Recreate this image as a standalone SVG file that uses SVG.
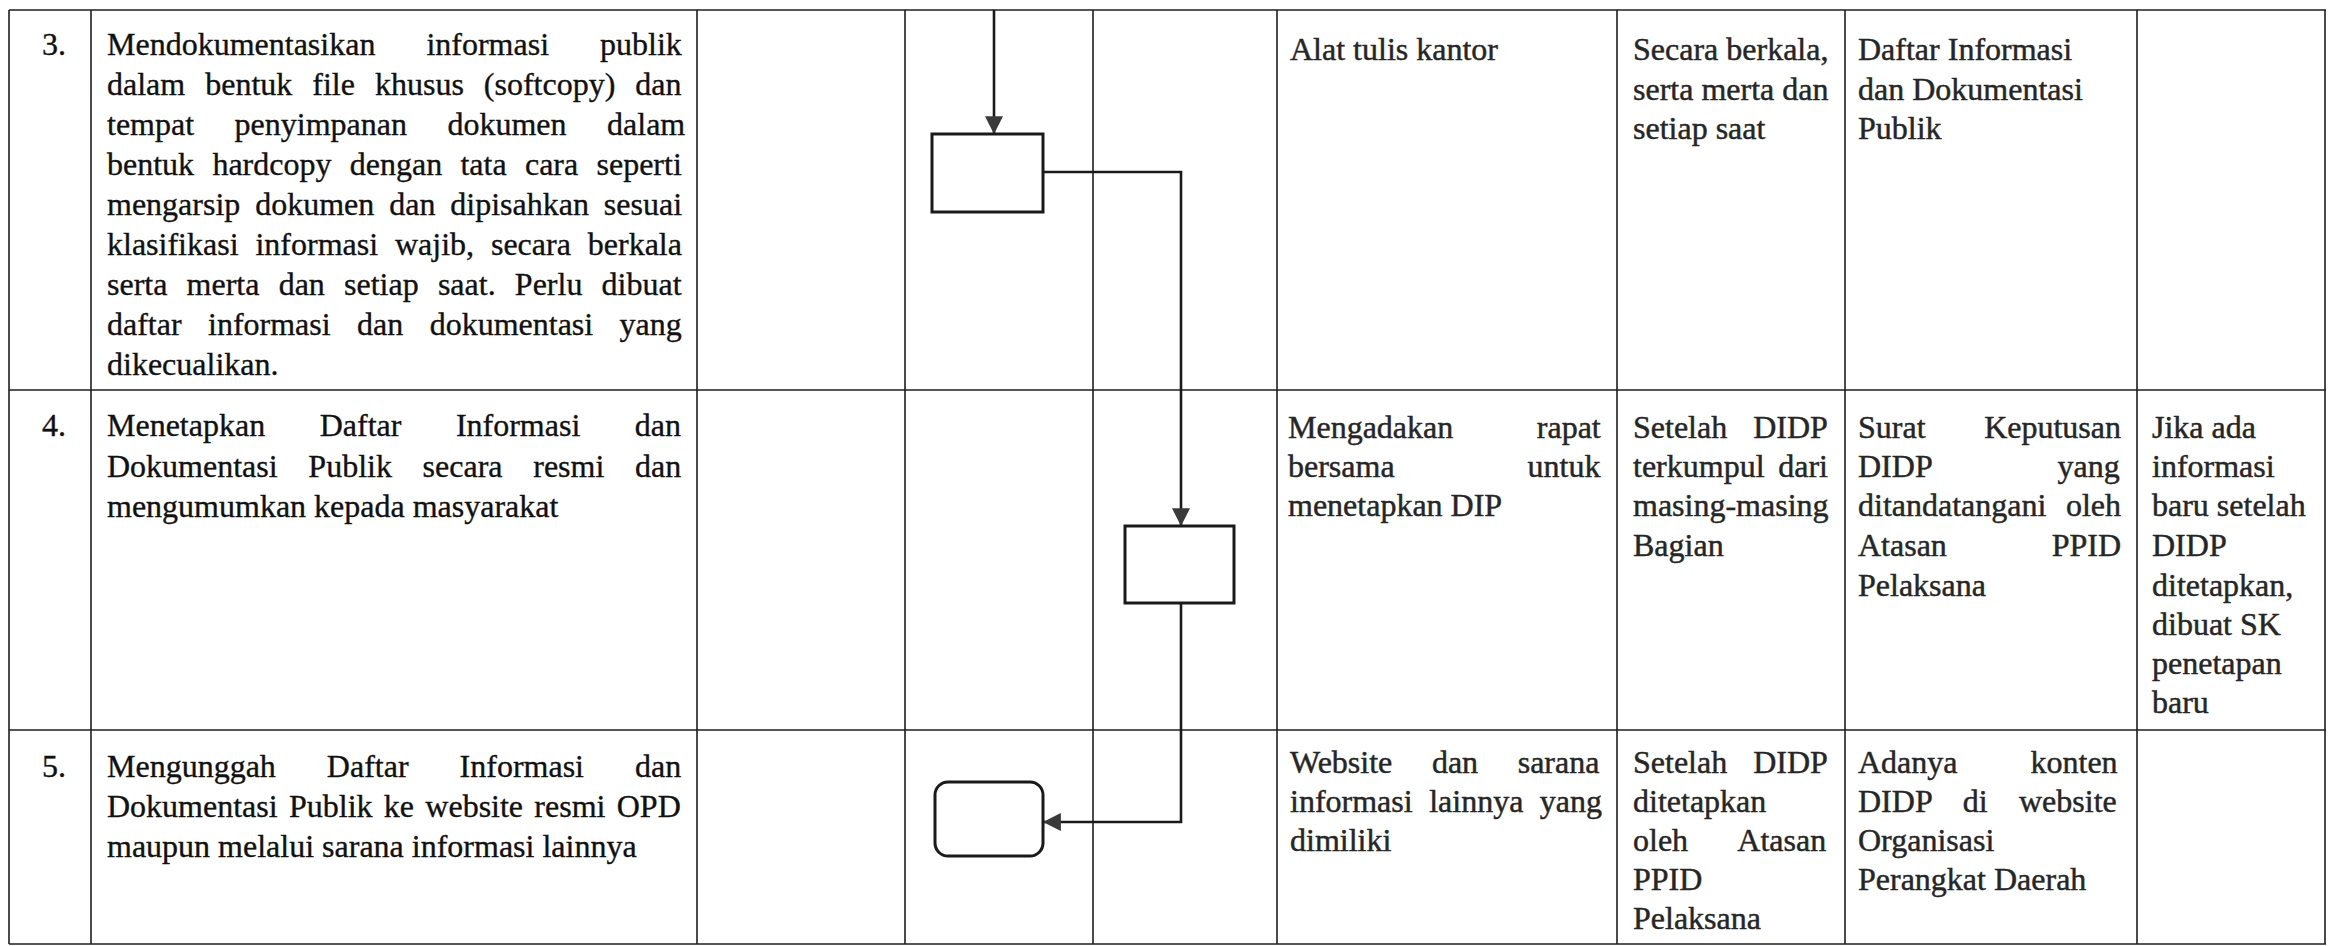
<svg xmlns="http://www.w3.org/2000/svg" width="2335" height="946" viewBox="0 0 2335 946">
<style>
  .grid line { stroke:#1e1e1e; stroke-width:1.6; }
  .t { font-family:"Liberation Serif","Times New Roman",serif; font-size:32px; fill:#111111; stroke:#111111; stroke-width:0.35; }
  .r { font-family:"Liberation Serif","Times New Roman",serif; font-size:32px; fill:#262626; stroke:#262626; stroke-width:0.45; }
  .box { fill:#ffffff; stroke:#1a1a1a; stroke-width:3; }
  .conn { fill:none; stroke:#1a1a1a; stroke-width:2.6; }
</style>
<defs>
  <marker id="arr" markerUnits="userSpaceOnUse" markerWidth="18" markerHeight="18" viewBox="0 0 16 16" refX="15" refY="8" orient="auto">
    <path d="M0,0 L16,8 L0,16 Z" fill="#3a3a3a"/>
  </marker>
</defs>
<rect x="0" y="0" width="2335" height="946" fill="#ffffff"/>

<g id="table" class="grid">
  <line x1="9" y1="10" x2="2326" y2="10"/>
  <line x1="9" y1="390" x2="2326" y2="390"/>
  <line x1="9" y1="730" x2="2326" y2="730"/>
  <line x1="9" y1="944" x2="2326" y2="944"/>
  <line x1="9" y1="10" x2="9" y2="944"/>
  <line x1="91" y1="10" x2="91" y2="944"/>
  <line x1="697" y1="10" x2="697" y2="944"/>
  <line x1="905" y1="10" x2="905" y2="944"/>
  <line x1="1093" y1="10" x2="1093" y2="944"/>
  <line x1="1277" y1="10" x2="1277" y2="944"/>
  <line x1="1617" y1="10" x2="1617" y2="944"/>
  <line x1="1845" y1="10" x2="1845" y2="944"/>
  <line x1="2137" y1="10" x2="2137" y2="944"/>
  <line x1="2325" y1="10" x2="2325" y2="944"/>
</g>

<g id="row3-text">
  <text class="t" x="42" y="55">3.</text>
  <text class="t" x="107" y="55" word-spacing="43">Mendokumentasikan informasi publik</text>
  <text class="t" x="107" y="95" word-spacing="12">dalam bentuk file khusus (softcopy) dan</text>
  <text class="t" x="107" y="135" word-spacing="32.5">tempat penyimpanan dokumen dalam</text>
  <text class="t" x="107" y="175" word-spacing="10.3">bentuk hardcopy dengan tata cara seperti</text>
  <text class="t" x="107" y="215" word-spacing="6.9">mengarsip dokumen dan dipisahkan sesuai</text>
  <text class="t" x="107" y="255" word-spacing="8.9">klasifikasi informasi wajib, secara berkala</text>
  <text class="t" x="107" y="295" word-spacing="11.2">serta merta dan setiap saat. Perlu dibuat</text>
  <text class="t" x="107" y="335" word-spacing="18.4">daftar informasi dan dokumentasi yang</text>
  <text class="t" x="107" y="375">dikecualikan.</text>
  <text class="r" x="1290" y="60">Alat tulis kantor</text>
  <text class="r" x="1633" y="60">Secara berkala,</text>
  <text class="r" x="1633" y="100">serta merta dan</text>
  <text class="r" x="1633" y="139">setiap saat</text>
  <text class="r" x="1858" y="60">Daftar Informasi</text>
  <text class="r" x="1858" y="100">dan Dokumentasi</text>
  <text class="r" x="1858" y="139">Publik</text>
</g>

<g id="row4-text">
  <text class="t" x="42" y="436">4.</text>
  <text class="t" x="107" y="436" word-spacing="46.5">Menetapkan Daftar Informasi dan</text>
  <text class="t" x="107" y="477" word-spacing="22.7">Dokumentasi Publik secara resmi dan</text>
  <text class="t" x="107" y="517">mengumumkan kepada masyarakat</text>
  <text class="r" x="1288" y="438" word-spacing="75.5">Mengadakan rapat</text>
  <text class="r" x="1288" y="477" word-spacing="125">bersama untuk</text>
  <text class="r" x="1288" y="516">menetapkan DIP</text>
  <text class="r" x="1633" y="438" word-spacing="18">Setelah DIDP</text>
  <text class="r" x="1633" y="477" word-spacing="5.7">terkumpul dari</text>
  <text class="r" x="1633" y="516">masing-masing</text>
  <text class="r" x="1633" y="556">Bagian</text>
  <text class="r" x="1858" y="438" word-spacing="50.6">Surat Keputusan</text>
  <text class="r" x="1858" y="477" word-spacing="118">DIDP yang</text>
  <text class="r" x="1858" y="516" word-spacing="11.5">ditandatangani oleh</text>
  <text class="r" x="1858" y="556" word-spacing="96.8">Atasan PPID</text>
  <text class="r" x="1858" y="596">Pelaksana</text>
  <text class="r" x="2152" y="438">Jika ada</text>
  <text class="r" x="2152" y="477">informasi</text>
  <text class="r" x="2152" y="516">baru setelah</text>
  <text class="r" x="2152" y="556">DIDP</text>
  <text class="r" x="2152" y="596">ditetapkan,</text>
  <text class="r" x="2152" y="635">dibuat SK</text>
  <text class="r" x="2152" y="674">penetapan</text>
  <text class="r" x="2152" y="713">baru</text>
</g>

<g id="row5-text">
  <text class="t" x="42" y="777">5.</text>
  <text class="t" x="107" y="777" word-spacing="43">Mengunggah Daftar Informasi dan</text>
  <text class="t" x="107" y="817" word-spacing="3.3">Dokumentasi Publik ke website resmi OPD</text>
  <text class="t" x="107" y="857">maupun melalui sarana informasi lainnya</text>
  <text class="r" x="1290" y="773" word-spacing="31.6">Website dan sarana</text>
  <text class="r" x="1290" y="812" word-spacing="8.5">informasi lainnya yang</text>
  <text class="r" x="1290" y="851">dimiliki</text>
  <text class="r" x="1633" y="773" word-spacing="18">Setelah DIDP</text>
  <text class="r" x="1633" y="812">ditetapkan</text>
  <text class="r" x="1633" y="851" word-spacing="43">oleh Atasan</text>
  <text class="r" x="1633" y="890">PPID</text>
  <text class="r" x="1633" y="929">Pelaksana</text>
  <text class="r" x="1858" y="773" word-spacing="65">Adanya konten</text>
  <text class="r" x="1858" y="812" word-spacing="23.3">DIDP di website</text>
  <text class="r" x="1858" y="851">Organisasi</text>
  <text class="r" x="1858" y="890">Perangkat Daerah</text>
</g>

<g id="connectors">
  <path class="conn" d="M994,10 L994,133" marker-end="url(#arr)"/>
  <path class="conn" d="M1043,172 L1181,172 L1181,525" marker-end="url(#arr)"/>
  <path class="conn" d="M1181,603 L1181,822 L1044,822" marker-end="url(#arr)"/>
</g>

<g id="node-step3">
  <rect class="box" x="932" y="134" width="111" height="78"/>
</g>
<g id="node-step4">
  <rect class="box" x="1125" y="526" width="109" height="77"/>
</g>
<g id="node-step5">
  <rect class="box" x="935" y="782" width="108" height="74" rx="13" ry="13"/>
</g>
</svg>
